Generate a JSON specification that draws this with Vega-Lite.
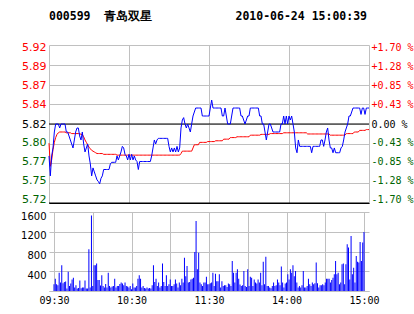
{
  "$schema": "https://vega.github.io/schema/vega-lite/v6.json",
  "background": "white",
  "padding": {"left": 20, "top": 11, "right": 0, "bottom": 0},
  "spacing": 6,
  "config": {"view": {"stroke": null}},
  "datasets": {
    "d": [
{"t":0,"p":5.78,"a":5.796,"v":135},{"t":1,"p":5.755,"a":5.767,"v":250},{"t":2,"p":5.78,"a":5.775,"v":135},{"t":3,"p":5.79,"a":5.788,"v":115},{"t":4,"p":5.81,"a":5.797,"v":370},{"t":5,"p":5.82,"a":5.803,"v":170},{"t":6,"p":5.82,"a":5.807,"v":520},{"t":7,"p":5.82,"a":5.809,"v":155},{"t":8,"p":5.815,"a":5.81,"v":180},{"t":9,"p":5.82,"a":5.81,"v":190},
{"t":10,"p":5.82,"a":5.81,"v":50},{"t":11,"p":5.82,"a":5.81,"v":390},{"t":12,"p":5.82,"a":5.81,"v":100},{"t":13,"p":5.81,"a":5.809,"v":150},{"t":14,"p":5.81,"a":5.809,"v":235},{"t":15,"p":5.805,"a":5.809,"v":270},{"t":16,"p":5.8,"a":5.809,"v":70},{"t":17,"p":5.795,"a":5.808,"v":115},{"t":18,"p":5.79,"a":5.808,"v":50},{"t":19,"p":5.8,"a":5.808,"v":60},
{"t":20,"p":5.81,"a":5.808,"v":215},{"t":21,"p":5.815,"a":5.808,"v":55},{"t":22,"p":5.815,"a":5.808,"v":70},{"t":23,"p":5.805,"a":5.808,"v":70},{"t":24,"p":5.8,"a":5.807,"v":215},{"t":25,"p":5.81,"a":5.807,"v":50},{"t":26,"p":5.795,"a":5.804,"v":50},{"t":27,"p":5.785,"a":5.8,"v":845},{"t":28,"p":5.79,"a":5.797,"v":70},{"t":29,"p":5.795,"a":5.794,"v":1530},
{"t":30,"p":5.78,"a":5.791,"v":100},{"t":31,"p":5.77,"a":5.789,"v":520},{"t":32,"p":5.755,"a":5.787,"v":520},{"t":33,"p":5.765,"a":5.786,"v":555},{"t":34,"p":5.76,"a":5.785,"v":225},{"t":35,"p":5.755,"a":5.784,"v":225},{"t":36,"p":5.75,"a":5.783,"v":110},{"t":37,"p":5.748,"a":5.783,"v":320},{"t":38,"p":5.745,"a":5.783,"v":100},{"t":39,"p":5.752,"a":5.783,"v":70},
{"t":40,"p":5.755,"a":5.783,"v":140},{"t":41,"p":5.763,"a":5.782,"v":70},{"t":42,"p":5.763,"a":5.782,"v":370},{"t":43,"p":5.763,"a":5.782,"v":100},{"t":44,"p":5.763,"a":5.782,"v":70},{"t":45,"p":5.763,"a":5.782,"v":90},{"t":46,"p":5.77,"a":5.782,"v":100},{"t":47,"p":5.772,"a":5.782,"v":250},{"t":48,"p":5.772,"a":5.782,"v":70},{"t":49,"p":5.772,"a":5.782,"v":100},
{"t":50,"p":5.772,"a":5.782,"v":100},{"t":51,"p":5.78,"a":5.781,"v":140},{"t":52,"p":5.775,"a":5.781,"v":170},{"t":53,"p":5.78,"a":5.781,"v":150},{"t":54,"p":5.785,"a":5.781,"v":115},{"t":55,"p":5.792,"a":5.781,"v":170},{"t":56,"p":5.79,"a":5.781,"v":100},{"t":57,"p":5.782,"a":5.781,"v":90},{"t":58,"p":5.78,"a":5.781,"v":70},{"t":59,"p":5.775,"a":5.781,"v":100},
{"t":60,"p":5.782,"a":5.781,"v":35},{"t":61,"p":5.775,"a":5.781,"v":150},{"t":62,"p":5.782,"a":5.781,"v":70},{"t":63,"p":5.775,"a":5.781,"v":70},{"t":64,"p":5.78,"a":5.781,"v":100},{"t":65,"p":5.775,"a":5.781,"v":250},{"t":66,"p":5.773,"a":5.781,"v":320},{"t":67,"p":5.763,"a":5.781,"v":250},{"t":68,"p":5.773,"a":5.781,"v":70},{"t":69,"p":5.773,"a":5.781,"v":100},
{"t":70,"p":5.773,"a":5.781,"v":60},{"t":71,"p":5.773,"a":5.781,"v":50},{"t":72,"p":5.773,"a":5.781,"v":70},{"t":73,"p":5.773,"a":5.781,"v":50},{"t":74,"p":5.773,"a":5.781,"v":60},{"t":75,"p":5.773,"a":5.781,"v":50},{"t":76,"p":5.773,"a":5.781,"v":115},{"t":77,"p":5.78,"a":5.781,"v":520},{"t":78,"p":5.79,"a":5.781,"v":180},{"t":79,"p":5.8,"a":5.781,"v":250},
{"t":80,"p":5.795,"a":5.781,"v":100},{"t":81,"p":5.8,"a":5.781,"v":170},{"t":82,"p":5.802,"a":5.781,"v":70},{"t":83,"p":5.802,"a":5.781,"v":100},{"t":84,"p":5.802,"a":5.781,"v":555},{"t":85,"p":5.802,"a":5.781,"v":180},{"t":86,"p":5.802,"a":5.781,"v":100},{"t":87,"p":5.802,"a":5.781,"v":320},{"t":88,"p":5.802,"a":5.781,"v":100},{"t":89,"p":5.802,"a":5.781,"v":135},
{"t":90,"p":5.792,"a":5.781,"v":235},{"t":91,"p":5.785,"a":5.781,"v":100},{"t":92,"p":5.79,"a":5.781,"v":100},{"t":93,"p":5.785,"a":5.781,"v":135},{"t":94,"p":5.79,"a":5.781,"v":235},{"t":95,"p":5.785,"a":5.781,"v":150},{"t":96,"p":5.792,"a":5.781,"v":70},{"t":97,"p":5.785,"a":5.781,"v":170},{"t":98,"p":5.79,"a":5.781,"v":115},{"t":99,"p":5.815,"a":5.783,"v":250},
{"t":100,"p":5.825,"a":5.786,"v":170},{"t":101,"p":5.828,"a":5.786,"v":675},{"t":102,"p":5.82,"a":5.786,"v":300},{"t":103,"p":5.815,"a":5.786,"v":505},{"t":104,"p":5.82,"a":5.786,"v":170},{"t":105,"p":5.815,"a":5.786,"v":180},{"t":106,"p":5.81,"a":5.786,"v":235},{"t":107,"p":5.82,"a":5.786,"v":250},{"t":108,"p":5.83,"a":5.79,"v":270},{"t":109,"p":5.835,"a":5.794,"v":790},
{"t":110,"p":5.84,"a":5.794,"v":1420},{"t":111,"p":5.84,"a":5.794,"v":440},{"t":112,"p":5.84,"a":5.794,"v":775},{"t":113,"p":5.84,"a":5.797,"v":170},{"t":114,"p":5.84,"a":5.797,"v":135},{"t":115,"p":5.83,"a":5.797,"v":100},{"t":116,"p":5.83,"a":5.797,"v":170},{"t":117,"p":5.83,"a":5.797,"v":170},{"t":118,"p":5.83,"a":5.797,"v":290},{"t":119,"p":5.83,"a":5.798,"v":135},
{"t":120,"p":5.83,"a":5.798,"v":135},{"t":121,"p":5.84,"a":5.798,"v":155},{"t":122,"p":5.85,"a":5.798,"v":170},{"t":123,"p":5.84,"a":5.798,"v":370},{"t":124,"p":5.84,"a":5.798,"v":100},{"t":125,"p":5.84,"a":5.799,"v":350},{"t":126,"p":5.84,"a":5.799,"v":195},{"t":127,"p":5.84,"a":5.799,"v":195},{"t":128,"p":5.84,"a":5.799,"v":340},{"t":129,"p":5.84,"a":5.799,"v":70},
{"t":130,"p":5.83,"a":5.799,"v":195},{"t":131,"p":5.83,"a":5.801,"v":100},{"t":132,"p":5.84,"a":5.801,"v":115},{"t":133,"p":5.83,"a":5.801,"v":115},{"t":134,"p":5.82,"a":5.801,"v":80},{"t":135,"p":5.82,"a":5.801,"v":150},{"t":136,"p":5.82,"a":5.803,"v":135},{"t":137,"p":5.83,"a":5.803,"v":100},{"t":138,"p":5.84,"a":5.803,"v":610},{"t":139,"p":5.84,"a":5.803,"v":370},
{"t":140,"p":5.84,"a":5.803,"v":170},{"t":141,"p":5.84,"a":5.804,"v":370},{"t":142,"p":5.84,"a":5.804,"v":440},{"t":143,"p":5.84,"a":5.804,"v":250},{"t":144,"p":5.83,"a":5.804,"v":130},{"t":145,"p":5.83,"a":5.804,"v":100},{"t":146,"p":5.825,"a":5.804,"v":115},{"t":147,"p":5.82,"a":5.804,"v":405},{"t":148,"p":5.825,"a":5.804,"v":100},{"t":149,"p":5.83,"a":5.804,"v":80},
{"t":150,"p":5.83,"a":5.804,"v":440},{"t":151,"p":5.84,"a":5.806,"v":100},{"t":152,"p":5.84,"a":5.806,"v":290},{"t":153,"p":5.84,"a":5.806,"v":270},{"t":154,"p":5.84,"a":5.806,"v":100},{"t":155,"p":5.84,"a":5.806,"v":235},{"t":156,"p":5.84,"a":5.806,"v":170},{"t":157,"p":5.84,"a":5.806,"v":150},{"t":158,"p":5.83,"a":5.806,"v":235},{"t":159,"p":5.83,"a":5.807,"v":170},
{"t":160,"p":5.82,"a":5.807,"v":370},{"t":161,"p":5.82,"a":5.807,"v":115},{"t":162,"p":5.81,"a":5.807,"v":590},{"t":163,"p":5.8,"a":5.807,"v":135},{"t":164,"p":5.81,"a":5.807,"v":695},{"t":165,"p":5.82,"a":5.807,"v":100},{"t":166,"p":5.82,"a":5.808,"v":100},{"t":167,"p":5.815,"a":5.808,"v":70},{"t":168,"p":5.81,"a":5.808,"v":55},{"t":169,"p":5.81,"a":5.808,"v":100},
{"t":170,"p":5.81,"a":5.808,"v":170},{"t":171,"p":5.81,"a":5.808,"v":100},{"t":172,"p":5.81,"a":5.808,"v":115},{"t":173,"p":5.81,"a":5.808,"v":235},{"t":174,"p":5.82,"a":5.808,"v":170},{"t":175,"p":5.82,"a":5.808,"v":115},{"t":176,"p":5.83,"a":5.809,"v":495},{"t":177,"p":5.82,"a":5.809,"v":170},{"t":178,"p":5.83,"a":5.809,"v":70},{"t":179,"p":5.82,"a":5.809,"v":150},
{"t":180,"p":5.83,"a":5.809,"v":170},{"t":181,"p":5.825,"a":5.809,"v":340},{"t":182,"p":5.83,"a":5.809,"v":235},{"t":183,"p":5.82,"a":5.809,"v":440},{"t":184,"p":5.81,"a":5.809,"v":370},{"t":185,"p":5.79,"a":5.809,"v":520},{"t":186,"p":5.784,"a":5.809,"v":300},{"t":187,"p":5.8,"a":5.809,"v":405},{"t":188,"p":5.792,"a":5.809,"v":170},{"t":189,"p":5.792,"a":5.809,"v":70},
{"t":190,"p":5.792,"a":5.809,"v":100},{"t":191,"p":5.792,"a":5.809,"v":70},{"t":192,"p":5.792,"a":5.809,"v":115},{"t":193,"p":5.792,"a":5.809,"v":405},{"t":194,"p":5.792,"a":5.8075,"v":70},{"t":195,"p":5.792,"a":5.8075,"v":70},{"t":196,"p":5.792,"a":5.8075,"v":100},{"t":197,"p":5.784,"a":5.8075,"v":250},{"t":198,"p":5.792,"a":5.8075,"v":135},{"t":199,"p":5.792,"a":5.8075,"v":100},
{"t":200,"p":5.792,"a":5.8075,"v":170},{"t":201,"p":5.792,"a":5.8075,"v":135},{"t":202,"p":5.792,"a":5.8075,"v":155},{"t":203,"p":5.792,"a":5.8075,"v":575},{"t":204,"p":5.8,"a":5.8075,"v":155},{"t":205,"p":5.8,"a":5.8075,"v":70},{"t":206,"p":5.792,"a":5.8075,"v":115},{"t":207,"p":5.8,"a":5.8075,"v":115},{"t":208,"p":5.81,"a":5.8075,"v":135},{"t":209,"p":5.815,"a":5.8075,"v":115},
{"t":210,"p":5.8,"a":5.8075,"v":170},{"t":211,"p":5.79,"a":5.806,"v":250},{"t":212,"p":5.79,"a":5.806,"v":250},{"t":213,"p":5.784,"a":5.806,"v":250},{"t":214,"p":5.79,"a":5.806,"v":170},{"t":215,"p":5.784,"a":5.806,"v":225},{"t":216,"p":5.784,"a":5.806,"v":270},{"t":217,"p":5.784,"a":5.806,"v":340},{"t":218,"p":5.784,"a":5.806,"v":610},{"t":219,"p":5.79,"a":5.806,"v":340},
{"t":220,"p":5.792,"a":5.806,"v":370},{"t":221,"p":5.8,"a":5.806,"v":135},{"t":222,"p":5.81,"a":5.806,"v":170},{"t":223,"p":5.815,"a":5.808,"v":540},{"t":224,"p":5.82,"a":5.808,"v":555},{"t":225,"p":5.83,"a":5.808,"v":135},{"t":226,"p":5.83,"a":5.808,"v":540},{"t":227,"p":5.835,"a":5.808,"v":945},{"t":228,"p":5.84,"a":5.808,"v":880},{"t":229,"p":5.84,"a":5.81,"v":235},
{"t":230,"p":5.84,"a":5.81,"v":1115},{"t":231,"p":5.84,"a":5.81,"v":340},{"t":232,"p":5.84,"a":5.81,"v":470},{"t":233,"p":5.84,"a":5.812,"v":170},{"t":234,"p":5.832,"a":5.812,"v":710},{"t":235,"p":5.84,"a":5.812,"v":590},{"t":236,"p":5.84,"a":5.812,"v":575},{"t":237,"p":5.832,"a":5.812,"v":990},{"t":238,"p":5.84,"a":5.813,"v":610},{"t":239,"p":5.84,"a":5.813,"v":980},
{"t":240,"p":5.84,"a":5.813,"v":1195}
    ],
    "ref": [{"c": 5.82}, {"c": 5.72106}]
  },
  "vconcat": [
    {
      "width": 320,
      "height": 158,
      "title": {
        "text": "000599\u00a0\u00a0青岛双星\u00a0\u00a0\u00a0\u00a0\u00a0\u00a0\u00a0\u00a0\u00a0\u00a0\u00a0\u00a02010-06-24\u00a015:00:39",
        "anchor": "start",
        "frame": "group",
        "font": "DejaVu Sans Mono",
        "fontSize": 11.5,
        "fontWeight": "bold",
        "color": "black",
        "baseline": "alphabetic",
        "offset": 10
      },
      "resolve": {"scale": {"y": "shared"}, "axis": {"y": "independent"}},
      "layer": [
        {
          "data": {"name": "ref"},
          "mark": {"type": "rule", "color": "black", "strokeWidth": 1},
          "encoding": {
            "y": {"field": "c", "type": "quantitative", "scale": {"domain": [5.72106, 5.91894], "nice": false, "zero": false}, "axis": null}
          }
        },
        {
          "data": {"name": "d"},
          "mark": {"type": "line", "color": "#ff0000", "strokeWidth": 1},
          "encoding": {
            "x": {
              "field": "t", "type": "quantitative",
              "scale": {"domain": [0, 240], "nice": false, "zero": false},
              "axis": {
                "title": null, "values": [0, 30, 60, 90, 120, 150, 180, 210, 240],
                "labels": false, "ticks": false, "grid": true, "gridColor": "#c0c0c0", "gridWidth": 1,
                "domain": true, "domainColor": "black", "domainWidth": 1
              }
            },
            "y": {
              "field": "a", "type": "quantitative",
              "scale": {"domain": [5.72106, 5.91894], "nice": false, "zero": false},
              "axis": {
                "title": null, "orient": "right",
                "values": [5.72106, 5.745795, 5.77053, 5.795265, 5.82, 5.844735, 5.86947, 5.894205, 5.91894],
                "labelExpr": "['-1.70 %','-1.28 %','-0.85 %','-0.43 %','\u00a00.00 %','+0.43 %','+0.85 %','+1.28 %','+1.70 %'][round((datum.value/5.82-1)/0.00425)+4]",
                "grid": false, "ticks": false, "domain": false,
                "labelFont": "DejaVu Sans Mono", "labelFontSize": 10, "labelPadding": 2, "labelAlign": "left",
                "labelBaseline": "middle", "labelOverlap": false, "labelBound": false, "labelFlush": false,
                "labelColor": {"condition": [{"test": "datum.value > 5.821", "value": "#ff0000"}, {"test": "datum.value < 5.819", "value": "#006400"}], "value": "black"},
                "labelOffset": {"condition": [{"test": "datum.value > 5.9", "value": 2.5}, {"test": "datum.value > 5.88", "value": 1.8}, {"test": "datum.value > 5.86", "value": 1}, {"test": "datum.value > 5.83", "value": 0.4}, {"test": "datum.value > 5.81", "value": 0.3}, {"test": "datum.value > 5.79", "value": -1}, {"test": "datum.value > 5.76", "value": -1.9}, {"test": "datum.value > 5.74", "value": -2.6}], "value": -3.2}
              }
            }
          }
        },
        {
          "data": {"name": "d"},
          "mark": {"type": "line", "color": "#0000ff", "strokeWidth": 1},
          "encoding": {
            "x": {"field": "t", "type": "quantitative", "scale": {"domain": [0, 240], "nice": false, "zero": false}},
            "y": {
              "field": "p", "type": "quantitative",
              "scale": {"domain": [5.72106, 5.91894], "nice": false, "zero": false},
              "axis": {
                "title": null, "orient": "left",
                "values": [5.72106, 5.745795, 5.77053, 5.795265, 5.82, 5.844735, 5.86947, 5.894205, 5.91894],
                "format": ".2f",
                "grid": true, "gridColor": "#c0c0c0", "gridWidth": 1, "ticks": false, "domain": false,
                "labelFont": "DejaVu Sans", "labelFontSize": 11, "labelPadding": 3,
                "labelBaseline": "middle", "labelOverlap": false, "labelBound": false, "labelFlush": false,
                "labelColor": {"condition": [{"test": "datum.value > 5.821", "value": "#ff0000"}, {"test": "datum.value < 5.819", "value": "#006400"}], "value": "black"},
                "labelOffset": {"condition": [{"test": "datum.value > 5.9", "value": 2.5}, {"test": "datum.value > 5.88", "value": 1.8}, {"test": "datum.value > 5.86", "value": 1}, {"test": "datum.value > 5.83", "value": 0.4}, {"test": "datum.value > 5.81", "value": 0.3}, {"test": "datum.value > 5.79", "value": -1}, {"test": "datum.value > 5.76", "value": -1.9}, {"test": "datum.value > 5.74", "value": -2.6}], "value": -3.2}
              }
            }
          }
        }
      ]
    },
    {
      "width": 320,
      "height": 79,
      "data": {"name": "d"},
      "mark": {"type": "bar", "color": "#0000ff", "size": 1},
      "encoding": {
        "x": {
          "field": "t", "type": "quantitative",
          "scale": {"domain": [0, 240], "nice": false, "zero": false},
          "axis": {
            "title": null, "values": [0, 30, 60, 90, 120, 150, 180, 210, 240],
            "labelExpr": "datum.value == 0 ? '09:30' : datum.value == 60 ? '10:30' : datum.value == 120 ? '11:30' : datum.value == 180 ? '14:00' : datum.value == 240 ? '15:00' : ''",
            "ticks": false, "grid": true, "gridColor": "#c0c0c0", "gridWidth": 1,
            "domain": true, "domainColor": "#c0c0c0",
            "labelFont": "DejaVu Sans Mono", "labelFontSize": 10, "labelColor": "black", "labelPadding": 4,
            "labelOverlap": false, "labelBound": false, "labelFlush": false
          }
        },
        "y": {
          "field": "v", "type": "quantitative",
          "scale": {"domain": [0, 1600], "nice": false, "zero": true},
          "axis": {
            "title": null, "values": [0, 400, 800, 1200, 1600],
            "labelExpr": "datum.value == 0 ? '' : datum.label",
            "format": "d",
            "grid": true, "gridColor": "#c0c0c0", "gridWidth": 1, "ticks": false, "domain": false,
            "labelFont": "DejaVu Sans", "labelFontSize": 10, "labelColor": "black", "labelPadding": 3,
            "labelBaseline": "top", "labelOffset": -1,
            "labelOverlap": false, "labelBound": false, "labelFlush": false
          }
        }
      }
    }
  ]
}
